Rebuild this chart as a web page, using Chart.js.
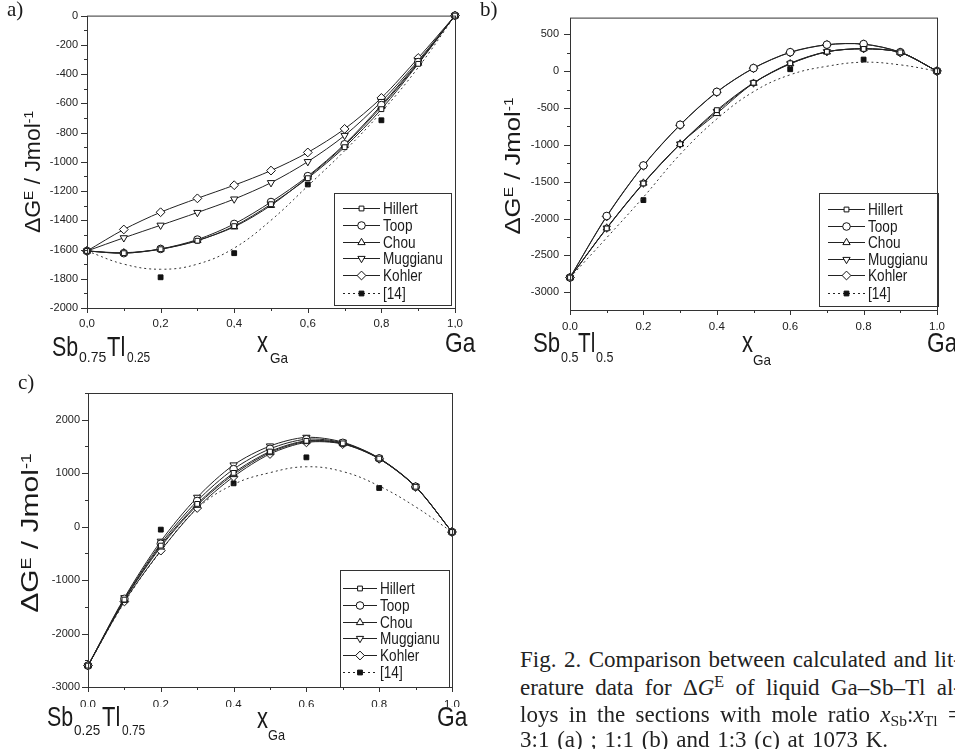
<!DOCTYPE html>
<html>
<head>
<meta charset="utf-8">
<script src="https://cdn.jsdelivr.net/npm/chart.js@4.4.0/dist/chart.umd.min.js"></script>
<style>
html, body { margin: 0; padding: 0; background: #fff; }
body { width: 955px; height: 749px; overflow: hidden; position: relative; font-family: 'Liberation Sans', Arial, sans-serif; color: #1a1a1a; }
canvas { position: absolute; }
.t { position: absolute; white-space: nowrap; line-height: 1; transform-origin: 0 0; }
.sup { position: relative; top: -0.5em; font-size: 0.6em; }
.sub { position: relative; top: 0.3em; font-size: 0.68em; }
.serif { font-family: 'Liberation Serif', 'Times New Roman', serif; }
.cap { position: absolute; left: 520px; width: 441px; white-space: nowrap; font-family: 'Liberation Serif', 'Times New Roman', serif; font-size: 23px; line-height: 1; text-align: justify; text-align-last: justify; color: #222; }
.cap.last { width: 368px; }
</style>
</head>
<body>
<canvas id="chartA" width="480" height="370" style="left:0;top:0"></canvas>
<canvas id="chartB" width="475" height="370" style="left:480px;top:0"></canvas>
<canvas id="chartC" width="480" height="379" style="left:0;top:370px"></canvas>

<script>
// shared x positions
const xGa = [0, 0.1, 0.2, 0.3, 0.4, 0.5, 0.6, 0.7, 0.8, 0.9, 1.0];
const xRef = [0.2, 0.4, 0.6, 0.8];
const xTicks = [0, 0.2, 0.4, 0.6, 0.8, 1.0];
const modelNames = ['Hillert', 'Toop', 'Chou', 'Muggianu', 'Kohler'];
const refName = '[14]';

// a) Sb0.75Tl0.25 - Ga
const hillertA = [-1610, -1625, -1598, -1540, -1440, -1290, -1112, -900, -640, -330, 0];
const toopA    = [-1610, -1625, -1596, -1532, -1425, -1275, -1098, -880, -612, -318, 0];
const chouA    = [-1610, -1622, -1597, -1538, -1445, -1298, -1105, -888, -622, -325, 0];
const muggA    = [-1610, -1520, -1434, -1347, -1255, -1143, -999, -820, -588, -308, 0];
const kohlerA  = [-1610, -1463, -1345, -1250, -1160, -1060, -936, -775, -563, -290, 0];
const fitA     = [-1610, -1700, -1735, -1700, -1590, -1400, -1165, -925, -660, -355, 0];
const refA     = [-1790, -1625, -1155, -716];
const yTicksA  = [0, -200, -400, -600, -800, -1000, -1200, -1400, -1600, -1800, -2000];

// b) Sb0.5Tl0.5 - Ga
const hillertB = [-2800, -2134, -1524, -992, -530, -159, 106, 263, 300, 254, 0];
const toopB    = [-2800, -1965, -1280, -728, -282, 40, 256, 358, 366, 256, 0];
const chouB    = [-2800, -2128, -1518, -988, -575, -164, 100, 260, 305, 252, 0];
const muggB    = [-2800, -2130, -1520, -990, -548, -162, 98, 262, 302, 252, 0];
const kohlerB  = [-2800, -1972, -1284, -733, -286, 38, 252, 356, 364, 254, 0];
const fitB     = [-2800, -2260, -1710, -1130, -650, -280, -50, 65, 120, 84, 0];
const refB     = [-1750, -566, 25, 156];
const yTicksB  = [500, 0, -500, -1000, -1500, -2000, -2500, -3000];

// c) Sb0.25Tl0.75 - Ga
const hillertC = [-2600, -1365, -355, 425, 1005, 1405, 1605, 1558, 1274, 746, -100];
const toopC    = [-2600, -1350, -320, 480, 1075, 1455, 1635, 1568, 1277, 748, -100];
const chouC    = [-2600, -1375, -380, 400, 975, 1385, 1592, 1552, 1272, 745, -100];
const muggC    = [-2600, -1330, -274, 548, 1153, 1508, 1670, 1580, 1282, 752, -100];
const kohlerC  = [-2600, -1400, -449, 349, 935, 1359, 1576, 1545, 1268, 742, -100];
const fitC     = [-2600, -1420, -460, 340, 790, 1010, 1120, 1030, 760, 370, -100];
const refC     = [-56, 810, 1296, 723];
const yTicksC  = [2000, 1000, 0, -1000, -2000, -3000];

// marker look per model
const markers = {
    Hillert:  { pointStyle: 'rect', rotation: 0, radius: 3.4 },
    Toop:     { pointStyle: 'circle', rotation: 0, radius: 3.8 },
    Chou:     { pointStyle: 'triangle', rotation: 0, radius: 4.2 },
    Muggianu: { pointStyle: 'triangle', rotation: 180, radius: 4.2 },
    Kohler:   { pointStyle: 'rectRot', rotation: 0, radius: 4.4 }
};

// frame + outward ticks (major and minor)
const frameTicks = {
    id: 'frameTicks',
    afterDraw(chart, args, o) {
        const { ctx, chartArea: a, scales: { x, y } } = chart;
        ctx.save();
        ctx.strokeStyle = '#333';
        ctx.lineWidth = 1;
        ctx.strokeRect(a.left + 0.5, a.top + 0.5, a.right - a.left, a.bottom - a.top);
        ctx.beginPath();
        for (let i = 0; i <= 10; i++) {
            const px = Math.round(x.getPixelForValue(i / 10)) + 0.5;
            const len = i % 2 === 0 ? 5 : 3;
            ctx.moveTo(px, a.bottom); ctx.lineTo(px, a.bottom + len);
        }
        const start = Math.ceil(y.min / o.yMinor) * o.yMinor;
        for (let v = start; v <= y.max + 1e-6; v += o.yMinor) {
            const py = Math.round(y.getPixelForValue(v)) + 0.5;
            const len = o.yMajor.includes(v) ? 6 : 3;
            ctx.moveTo(a.left, py); ctx.lineTo(a.left - len, py);
        }
        ctx.stroke();
        ctx.restore();
    }
};

// boxed legend inside the plot
const boxLegend = {
    id: 'boxLegend',
    afterDatasetsDraw(chart, args, o) {
        const ctx = chart.ctx;
        ctx.save();
        ctx.fillStyle = '#fff';
        ctx.fillRect(o.x, o.y, o.w, o.h);
        ctx.strokeStyle = '#333';
        ctx.lineWidth = 1;
        ctx.strokeRect(o.x + 0.5, o.y + 0.5, o.w, o.h);
        const items = chart.data.datasets.filter(d => d.inLegend);
        items.forEach((d, i) => {
            const cy = Math.round(o.rows[i]) + 0.5;
            ctx.strokeStyle = '#222';
            ctx.setLineDash(d.legendDash || []);
            ctx.beginPath();
            ctx.moveTo(o.x0, cy); ctx.lineTo(o.x1, cy);
            ctx.stroke();
            ctx.setLineDash([]);
            ctx.fillStyle = d.pointBackgroundColor;
            ctx.strokeStyle = '#111';
            Chart.helpers.drawPoint(ctx, {
                pointStyle: d.pointStyle, rotation: d.pointRotation || 0,
                radius: d.pointRadius, borderWidth: 1
            }, (o.x0 + o.x1) / 2, cy);
            ctx.save();
            ctx.translate(o.tx, cy + 1);
            ctx.scale(0.8, 1);
            ctx.fillStyle = '#1a1a1a';
            ctx.font = '17px "Liberation Sans", Arial, sans-serif';
            ctx.textBaseline = 'middle';
            ctx.fillText(d.label, 0, 0);
            ctx.restore();
        });
        ctx.restore();
    }
};

function buildPanel(id, p) {
    const datasets = p.series.map((vals, i) => {
        const m = markers[modelNames[i]];
        return {
            label: modelNames[i],
            data: xGa.map((x, k) => ({ x, y: vals[k] })),
            borderColor: '#222',
            borderWidth: 1,
            tension: 0.3,
            pointStyle: m.pointStyle,
            pointRotation: m.rotation,
            pointRadius: m.radius,
            pointBackgroundColor: '#fff',
            pointBorderColor: '#111',
            pointBorderWidth: 1,
            clip: false,
            inLegend: true
        };
    });
    datasets.push({
        label: refName + ' fit',
        data: xGa.map((x, k) => ({ x, y: p.fit[k] })),
        borderColor: '#333',
        borderWidth: 1,
        borderDash: [2, 3],
        tension: 0.4,
        pointRadius: 0,
        clip: false
    });
    datasets.push({
        label: refName,
        data: xRef.map((x, k) => ({ x, y: p.ref[k] })),
        showLine: false,
        pointStyle: 'rect',
        pointRadius: 3.4,
        pointBackgroundColor: '#111',
        pointBorderColor: '#111',
        pointBorderWidth: 1,
        legendDash: [2, 3],
        clip: false,
        inLegend: true
    });

    new Chart(document.getElementById(id), {
        type: 'line',
        data: { datasets },
        options: {
            responsive: false,
            animation: false,
            devicePixelRatio: 1,
            layout: { padding: p.padding },
            plugins: {
                legend: { display: false },
                tooltip: { enabled: false },
                frameTicks: { yMinor: p.yMinor, yMajor: p.yTicks },
                boxLegend: p.legend
            },
            scales: {
                x: {
                    type: 'linear',
                    min: 0, max: 1,
                    afterBuildTicks: axis => { axis.ticks = xTicks.map(v => ({ value: v })); },
                    afterFit: axis => { axis.height = 20; },
                    grid: { display: false, drawTicks: false },
                    border: { display: false },
                    ticks: {
                        autoSkip: false, maxRotation: 0, padding: p.xPad,
                        color: '#222',
                        font: { family: 'Liberation Sans', size: 11.5 },
                        callback: v => v.toFixed(1).replace('.', ',')
                    }
                },
                y: {
                    min: p.yMin, max: p.yMax,
                    afterBuildTicks: axis => { axis.ticks = p.yTicks.map(v => ({ value: v })); },
                    afterFit: axis => { axis.width = p.yWidth; },
                    grid: { display: false, drawTicks: false },
                    border: { display: false },
                    ticks: {
                        autoSkip: false, padding: p.yPad,
                        color: '#222',
                        font: { family: 'Liberation Sans', size: 11 },
                        callback: v => String(v)
                    }
                }
            }
        },
        plugins: [frameTicks, boxLegend]
    });
}

buildPanel('chartA', {
    series: [hillertA, toopA, chouA, muggA, kohlerA], fit: fitA, ref: refA,
    yMin: -2000, yMax: 0, yTicks: yTicksA, yMinor: 100,
    yWidth: 87, yPad: 9, xPad: 9,
    padding: { left: 0, top: 11, right: 25, bottom: 42 },
    legend: { x: 334, y: 193, w: 117, h: 112, x0: 343, x1: 380, tx: 383,
              rows: [208.3, 225, 241.7, 258, 274.5, 292.5] }
});

buildPanel('chartB', {
    series: [hillertB, toopB, chouB, muggB, kohlerB], fit: fitB, ref: refB,
    yMin: -3240, yMax: 725, yTicks: yTicksB, yMinor: 250,
    yWidth: 90, yPad: 11, xPad: 10,
    padding: { left: 0, top: 15, right: 15, bottom: 40 },
    legend: { x: 339, y: 193, w: 119, h: 113, x0: 348, x1: 385, tx: 388,
              rows: [209, 225.7, 242.3, 258.7, 275.3, 293.3] }
});

buildPanel('chartC', {
    series: [hillertC, toopC, chouC, muggC, kohlerC], fit: fitC, ref: refC,
    yMin: -3000, yMax: 2500, yTicks: yTicksC, yMinor: 500,
    yWidth: 88, yPad: 8, xPad: 11,
    padding: { left: 0, top: 23, right: 28, bottom: 42 },
    legend: { x: 340, y: 200, w: 109, h: 117, x0: 343, x1: 377, tx: 380,
              rows: [218.3, 235, 251.7, 268.3, 285, 301.7] }
});

// text overlays: place a piece so its baseline sits at `base` and its width is `w`
function piece(html, x, base, size, w, cls) {
    const el = document.createElement('div');
    el.className = 't' + (cls ? ' ' + cls : '');
    el.innerHTML = html;
    el.style.fontSize = size + 'px';
    el.style.left = x + 'px';
    el.style.top = (base - 0.85 * size) + 'px';
    document.body.appendChild(el);
    if (w) el.style.transform = 'scaleX(' + (w / el.offsetWidth) + ')';
    return el;
}

function yTitle(cx, cy, size, len) {
    const el = document.createElement('div');
    el.className = 't';
    el.innerHTML = '&Delta;G<span class="sup">E</span> / Jmol<span class="sup">-1</span>';
    el.style.fontSize = size + 'px';
    el.style.left = cx + 'px';
    el.style.top = cy + 'px';
    el.style.transformOrigin = '50% 50%';
    document.body.appendChild(el);
    const k = len / el.offsetWidth;
    el.style.transform = 'translate(-50%,-50%) rotate(-90deg) scaleX(' + k + ')';
}

yTitle(33, 172, 22, 122);
yTitle(513, 166, 22, 137);
yTitle(30, 533, 24, 160);

// panel a x labels
piece('Sb', 52, 357, 28, 26);
piece('0.75', 79, 362, 14, 27);
piece('Tl', 107, 357, 28, 18);
piece('0.25', 127, 362, 14, 23);
piece('x', 257, 352, 30, 11);
piece('Ga', 270, 363, 15, 18);
piece('Ga', 445, 353, 28, 30);

// panel b x labels
piece('Sb', 533, 353, 28, 27);
piece('0.5', 561, 362, 14, 17);
piece('Tl', 578, 353, 28, 17);
piece('0.5', 596, 362, 14, 17);
piece('x', 742, 352, 30, 11);
piece('Ga', 753, 365, 15, 18);
piece('Ga', 927, 353, 28, 30);

// panel c x labels
piece('Sb', 47, 727, 28, 26);
piece('0.25', 74, 735, 14, 26);
piece('Tl', 102, 727, 28, 18);
piece('0.75', 122, 735, 14, 23);
piece('x', 257, 728, 30, 11);
piece('Ga', 268, 740, 15, 17);
piece('Ga', 437, 727, 28, 30);

// panel letters
piece('a)', 7, 17, 21, 0, 'serif');
piece('b)', 480, 17, 21, 0, 'serif');
piece('c)', 18, 390, 21, 0, 'serif');

// caption
const capLines = [
    'Fig. 2. Comparison between calculated and lit-',
    'erature data for &Delta;<i>G</i><span class="sup" style="font-size:0.7em">E</span> of liquid Ga&ndash;Sb&ndash;Tl al-',
    'loys in the sections with mole ratio <i>x</i><span class="sub">Sb</span>:<i>x</i><span class="sub">Tl</span> =',
    '3:1 (a) ; 1:1 (b) and 1:3 (c) at 1073 K.'
];
const capBase = [667, 695, 722, 747];
capLines.forEach((txt, i) => {
    const el = document.createElement('div');
    el.className = 'cap' + (i === capLines.length - 1 ? ' last' : '');
    el.innerHTML = txt;
    el.style.top = (capBase[i] - 0.84 * 23) + 'px';
    document.body.appendChild(el);
});
</script>
</body>
</html>
